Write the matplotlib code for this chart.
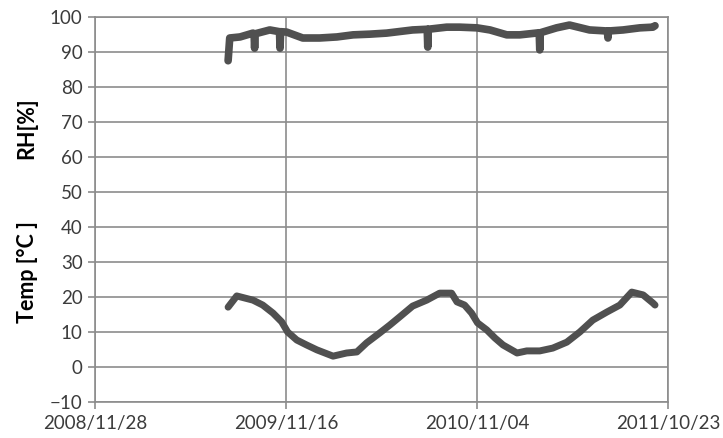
import matplotlib
matplotlib.use('Agg')
import matplotlib.pyplot as plt
import matplotlib.dates as mdates
import pandas as pd

# Temperature readings
temp_dates = ['2009-08-01', '2009-08-17', '2009-09-16', '2009-10-04', '2009-10-23',
              '2009-11-08', '2009-11-19', '2009-12-06', '2009-12-24', '2010-01-12',
              '2010-02-11', '2010-03-08', '2010-03-27', '2010-04-14', '2010-05-08',
              '2010-05-27', '2010-06-14', '2010-07-08', '2010-08-03', '2010-08-27',
              '2010-09-18', '2010-09-28', '2010-10-12', '2010-10-25', '2010-11-05',
              '2010-11-22', '2010-12-07', '2010-12-22', '2011-01-17', '2011-02-04',
              '2011-02-28', '2011-03-24', '2011-04-19', '2011-05-13', '2011-06-06',
              '2011-07-02', '2011-07-26', '2011-08-17', '2011-09-07', '2011-09-25',
              '2011-09-29']
temp_vals = [17.1, 20.3, 19.1, 17.7, 15.4,
             12.9, 10.0, 7.7, 6.3, 4.9,
             3.1, 4.0, 4.3, 6.9, 9.7,
             12.0, 14.3, 17.4, 19.1, 21.1,
             21.1, 18.6, 17.7, 15.4, 12.6,
             10.6, 8.3, 6.3, 4.0, 4.6,
             4.6, 5.4, 7.1, 10.0, 13.4,
             15.7, 17.7, 21.4, 20.6, 18.3,
             17.7]

# Relative humidity readings
rh_dates = ['2009-08-01', '2009-08-04', '2009-08-23', '2009-09-16', '2009-09-18',
            '2009-09-19', '2009-09-20', '2009-10-17', '2009-11-04', '2009-11-05',
            '2009-11-06', '2009-11-17', '2009-12-17', '2010-01-17', '2010-02-18',
            '2010-03-20', '2010-04-20', '2010-05-21', '2010-07-08', '2010-08-04',
            '2010-08-05', '2010-08-06', '2010-09-09', '2010-10-03', '2010-11-04',
            '2010-11-28', '2010-12-29', '2011-01-22', '2011-02-27', '2011-02-28',
            '2011-03-01', '2011-03-31', '2011-04-24', '2011-05-31', '2011-07-03',
            '2011-07-04', '2011-07-05', '2011-08-01', '2011-09-01', '2011-09-25',
            '2011-09-29']
rh_vals = [87.5, 94.0, 94.3, 95.4, 95.2,
           91.1, 95.2, 96.3, 95.8, 91.1,
           95.8, 95.7, 94.0, 94.0, 94.3,
           94.9, 95.1, 95.4, 96.3, 96.5,
           91.4, 96.5, 97.1, 97.1, 96.9,
           96.3, 94.9, 94.9, 95.5, 90.6,
           95.5, 96.9, 97.7, 96.3, 96.0,
           94.0, 96.0, 96.3, 96.9, 97.1,
           97.5]

x_ticks = ['2008-11-28', '2009-11-16', '2010-11-04', '2011-10-23']

plt.rcParams['font.family'] = ['Lato', 'DejaVu Sans']

fig = plt.figure(figsize=(7.23, 4.38), dpi=100)
ax = fig.add_axes([95 / 723, 1 - 402 / 438, 573 / 723, 385 / 438])

line_col = '#505050'
ax.plot(pd.to_datetime(rh_dates), rh_vals, color=line_col, lw=5.5,
        solid_joinstyle='round', solid_capstyle='round', zorder=3)
ax.plot(pd.to_datetime(temp_dates), temp_vals, color=line_col, lw=5,
        solid_joinstyle='round', solid_capstyle='round', zorder=3)

ticks = pd.to_datetime(x_ticks)
ax.set_xlim(ticks[0], ticks[-1])
ax.set_xticks(ticks)
ax.xaxis.set_major_formatter(mdates.DateFormatter('%Y/%m/%d'))
ax.set_ylim(-10, 100)
ax.set_yticks(range(-10, 101, 10))

grid_col = '#8c8c8c'
ax.grid(True, color=grid_col, lw=1.2)
ax.set_axisbelow(True)
for s in ax.spines.values():
    s.set_color(grid_col)
    s.set_linewidth(1.2)
ax.tick_params(colors=grid_col, length=5, width=1.2, labelsize=13.5,
               labelcolor='#3c3c3c', pad=4)

fig.text(27 / 723, 1 - 128 / 438, 'RH[%]', rotation=90, ha='center', va='center',
         fontsize=15.5, fontweight='bold', color='#000000')
fig.text(27 / 723, 1 - 272 / 438, 'Temp [°C ]', rotation=90, ha='center', va='center',
         fontsize=15.5, fontweight='bold', color='#000000')

fig.savefig('out.png', dpi=100)
